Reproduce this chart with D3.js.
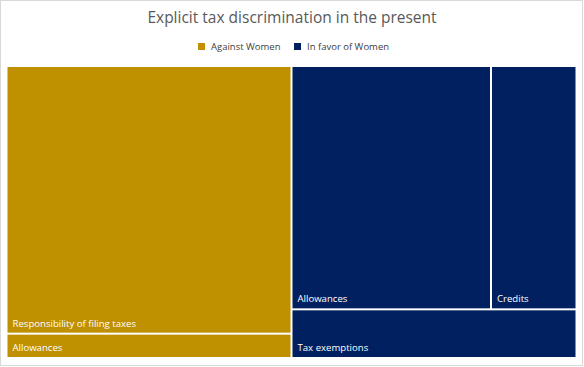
<!DOCTYPE html>
<html>
<head>
<script src="https://d3js.org/d3.v7.min.js"></script>
<style>
	body { margin: 0; background: #fff; }
	svg { display: block; font-family: "Open Sans", "Noto Sans", sans-serif; }
	.title { fill: #595959; font-size: 15.5px; }
	.legend text { fill: #404040; font-size: 9.5px; }
	.cell text { fill: #fff; font-size: 9.6px; }
</style>
</head>
<body>
<svg id="chart" width="584" height="367"></svg>
<script>
// data
var groups = ["Against Women", "In favor of Women"];
var groupColors = ["#bf9000", "#002060"];
var againstLabels = ["Responsibility of filing taxes", "Allowances"];
var againstValues = [11, 1];
var favorLabels = ["Allowances", "Credits", "Tax exemptions"];
var favorValues = [7, 3, 2];

var width = 584, height = 367;
var svg = d3.select("#chart");

// outer frame
svg.append("rect")
	.attr("x", 0.5).attr("y", 0.5)
	.attr("width", width - 2).attr("height", height - 2)
	.attr("fill", "#fff").attr("stroke", "#d9d9d9");

svg.append("text")
	.attr("class", "title")
	.attr("x", 292).attr("y", 23)
	.attr("text-anchor", "middle")
	.text("Explicit tax discrimination in the present");

// legend
var legend = svg.append("g").attr("class", "legend");
var legendX = [198, 294];
groups.forEach(function(g, i) {
	legend.append("rect")
		.attr("x", legendX[i]).attr("y", 43)
		.attr("width", 7).attr("height", 7)
		.attr("fill", groupColors[i]);
	legend.append("text")
		.attr("x", legendX[i] + 13).attr("y", 50)
		.text(g);
});

// hierarchy
var data = {
	name: "root",
	children: [
		{ name: groups[0], children: againstLabels.map(function(l, i) { return { name: l, value: againstValues[i] }; }) },
		{ name: groups[1], children: favorLabels.map(function(l, i) { return { name: l, value: favorValues[i] }; }) }
	]
};

var root = d3.hierarchy(data).sum(function(d) { return d.value || 0; });

// excel-ish tiling: split the groups side by side, then squarify inside
function tile(node, x0, y0, x1, y1) {
	if (node.depth === 0) d3.treemapDice(node, x0, y0, x1, y1);
	else d3.treemapSquarify.ratio(2)(node, x0, y0, x1, y1);
}

d3.treemap()
	.tile(tile)
	.size([568, 290])
	.paddingInner(2)
	(root);

var plot = svg.append("g").attr("transform", "translate(7.5,67)");

var cell = plot.selectAll(".cell")
	.data(root.leaves())
	.enter().append("g")
	.attr("class", "cell")
	.attr("transform", function(d) { return "translate(" + d.x0 + "," + d.y0 + ")"; });

cell.append("rect")
	.attr("width", function(d) { return d.x1 - d.x0; })
	.attr("height", function(d) { return d.y1 - d.y0; })
	.attr("fill", function(d) { return groupColors[groups.indexOf(d.parent.data.name)]; });

cell.append("text")
	.attr("x", 5)
	.attr("y", function(d) { return d.y1 - d.y0 - 6; })
	.text(function(d) { return d.data.name; });
</script>
</body>
</html>
